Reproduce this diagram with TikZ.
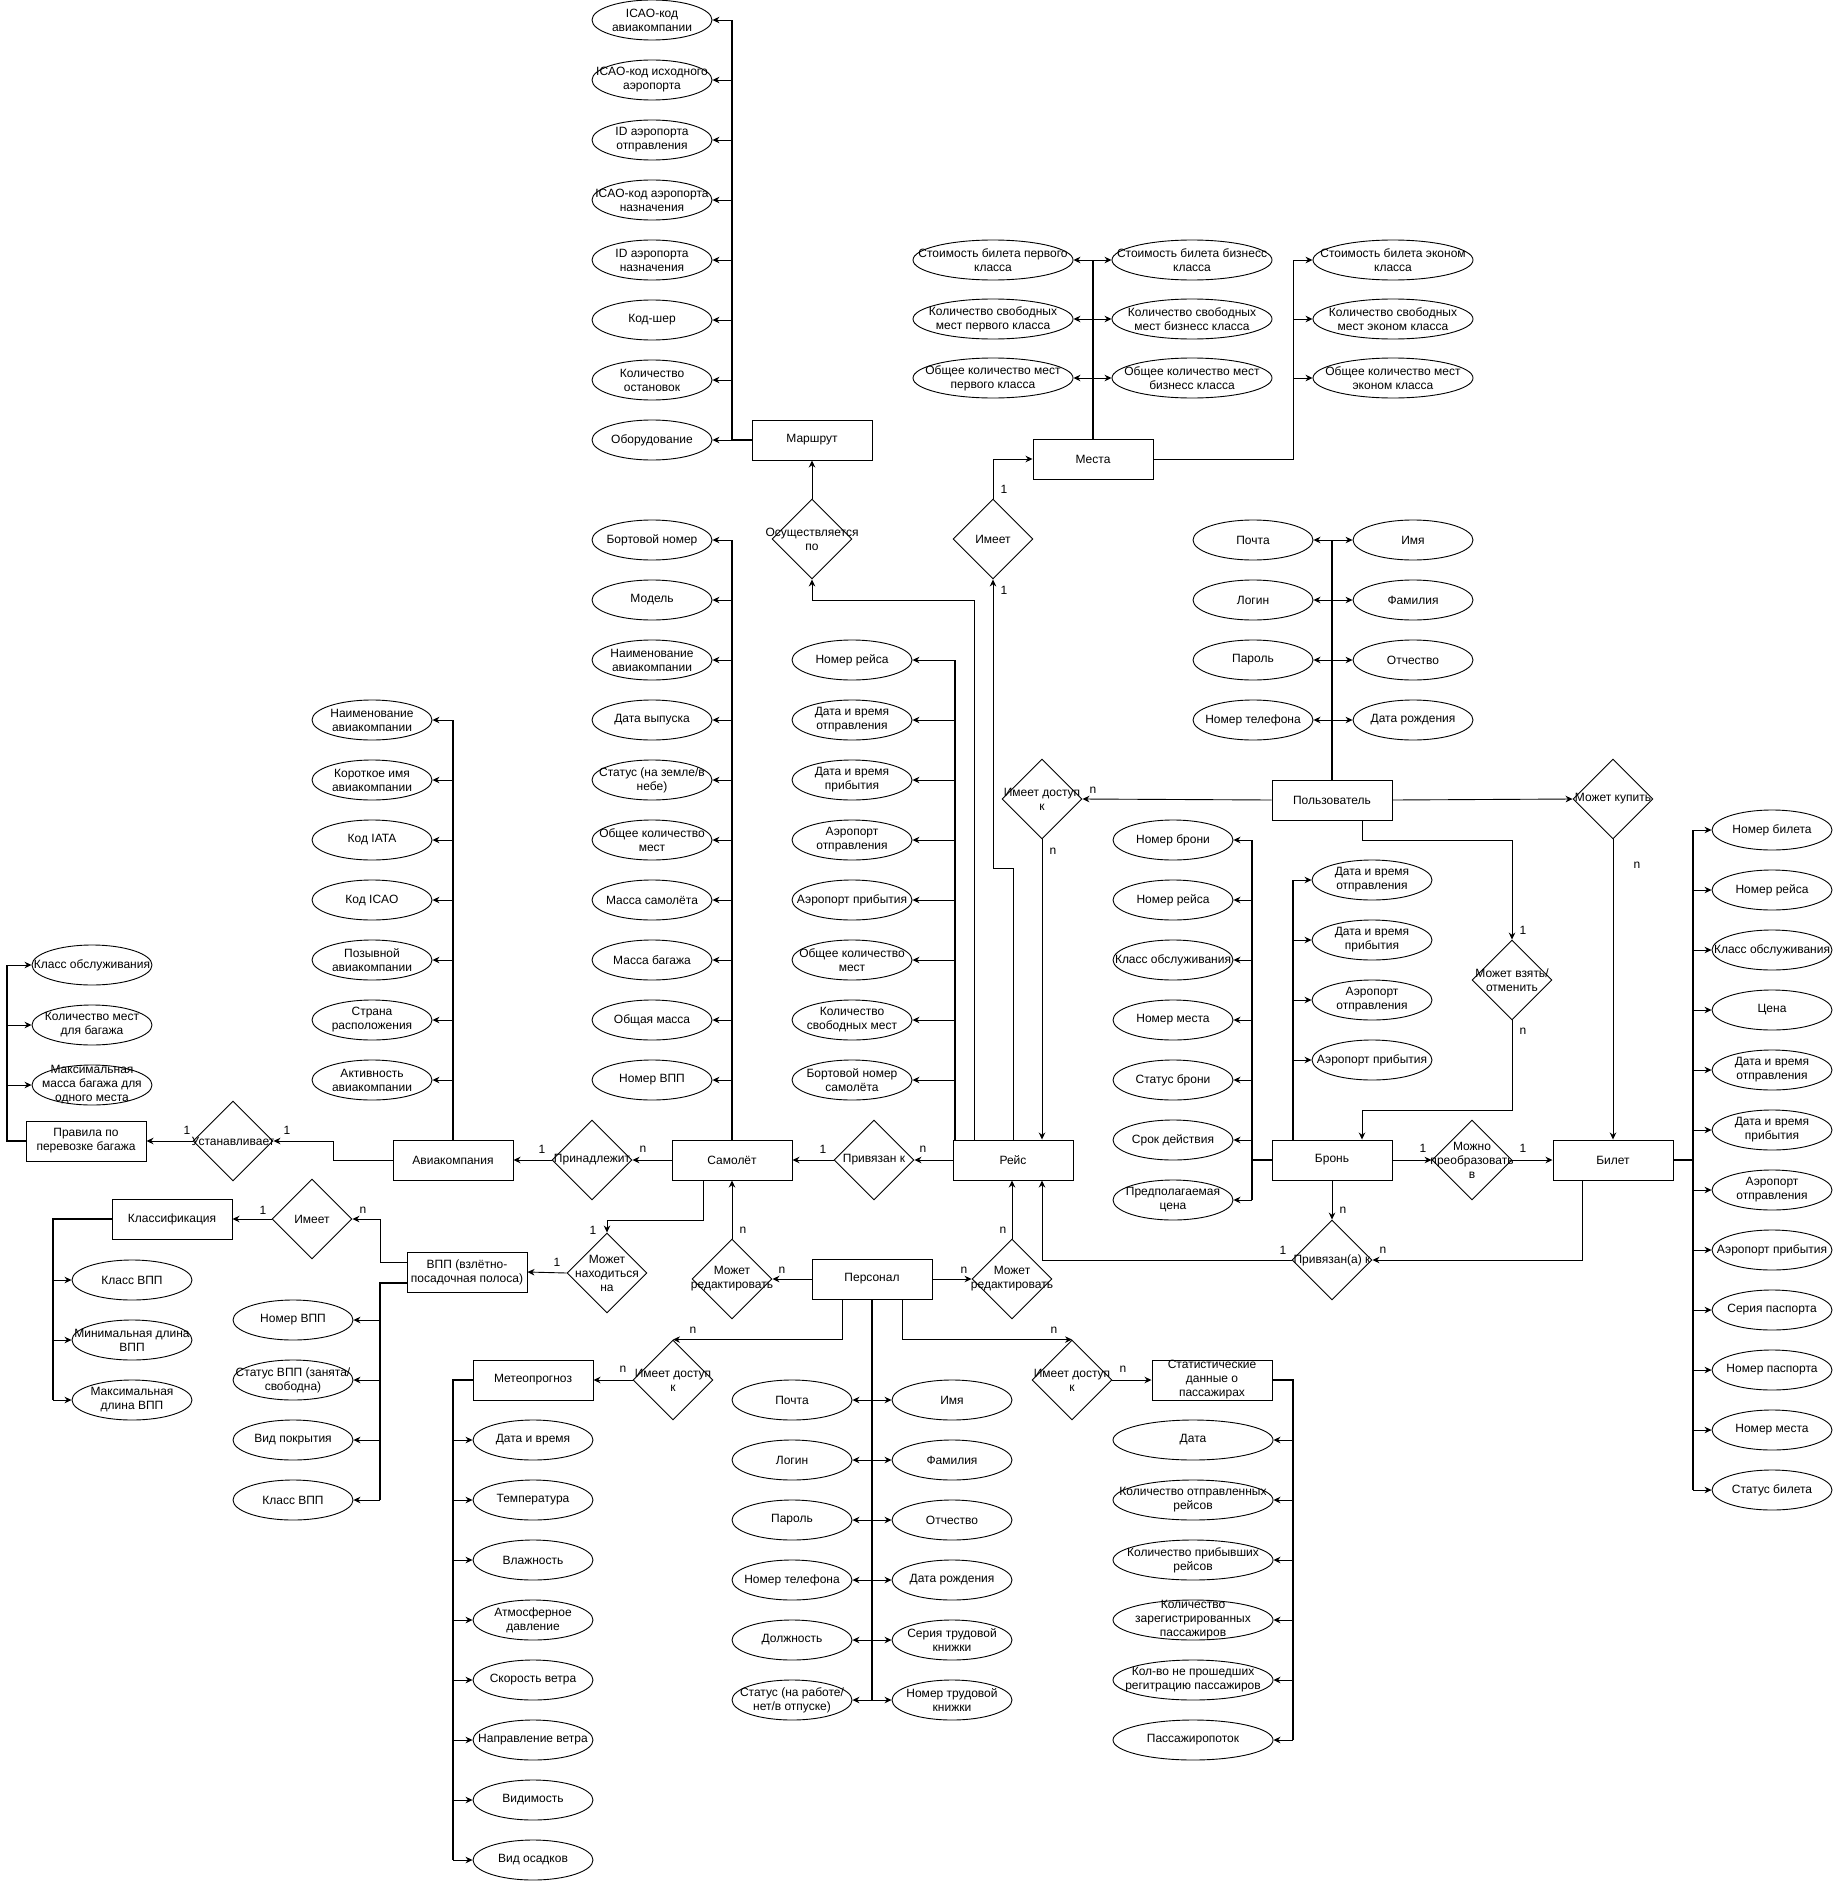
\documentclass[tikz,border=0pt]{standalone}
\usepackage{fontspec}
\setmainfont{Liberation Sans}
\usetikzlibrary{shapes.geometric,arrows.meta}
\newcommand\fs{\fontsize{12}{14}\selectfont}
\tikzset{
  ent/.style={draw, rectangle, minimum width=120pt, minimum height=40pt, inner sep=0pt, line width=1pt},
  attr/.style={draw, ellipse, minimum width=120pt, minimum height=40pt, inner sep=0pt, line width=0.9pt},
  rel/.style={draw, diamond, minimum width=80pt, minimum height=80pt, inner sep=0pt, line width=0.9pt},
  txt/.style={align=center, inner sep=0pt, font=\fs},
  card/.style={inner sep=0pt, font=\fs},
  ln/.style={line width=0.9pt},
  bus/.style={line width=1.8pt},
  tip/.style={-{Stealth[length=7pt,width=6.5pt]}},
  tips/.style={{Stealth[length=7pt,width=6.5pt]}-{Stealth[length=7pt,width=6.5pt]}},
}
% entity, attribute, wide attribute, relationship, cardinality
\newcommand\Ent[4]{\node[ent, label={[txt]center:{#4}}] (#1) at (#2,#3) {};}
\newcommand\Att[4]{\node[attr, label={[txt]center:{#4}}] (#1) at (#2,#3) {};}
\newcommand\Attw[4]{\node[attr, minimum width=160pt, label={[txt]center:{#4}}] (#1) at (#2,#3) {};}
\newcommand\Rel[4]{\node[rel, label={[txt]center:{#4}}] (#1) at (#2,#3) {};}
\newcommand\Card[4]{\node[card] (#1) at (#2,#3) {#4};}
\begin{document}
\begin{tikzpicture}[x=1pt,y=-1pt]
\fill[white] (0,0) rectangle (1834,1881);
\useasboundingbox (0,0) rectangle (1834,1881);

% ---------- entities ----------
\Ent{marsh}{812}{440}{Маршрут}
\Ent{mesta}{1093}{459}{Места}
\Ent{reis}{1013}{1160}{Рейс}
\Ent{samolet}{732}{1160}{Самолёт}
\Ent{aviak}{453}{1160}{Авиакомпания}
\Ent{pravila}{86}{1141}{Правила по\\перевозке багажа}
\Ent{polz}{1332}{800}{Пользователь}
\Ent{bron}{1332}{1160}{Бронь}
\Ent{bilet}{1613}{1160}{Билет}
\Ent{personal}{872}{1279}{Персонал}
\Ent{vpp}{467}{1272}{ВПП (взлётно-\\посадочная полоса)}
\Ent{klass}{172}{1219}{Классификация}
\Ent{meteo}{533}{1380}{Метеопрогноз}
\Ent{stat}{1212}{1380}{Статистические\\данные о\\пассажирах}

% ---------- relationships ----------
\Rel{osush}{812}{539}{Осуществляется\\по}
\Rel{imeetM}{993}{539}{Имеет}
\Rel{dostP}{1042}{799}{Имеет доступ\\к}
\Rel{kupit}{1613}{799}{Может купить}
\Rel{vzyat}{1512}{980}{Может взять/\\отменить}
\Rel{preobr}{1472}{1160}{Можно\\преобразовать\\в}
\Rel{privA}{1332}{1260}{Привязан(а) к}
\Rel{privS}{874}{1160}{Привязан к}
\Rel{prin}{592}{1160}{Принадлежит}
\Rel{ustan}{233}{1141}{Устанавливает}
\Rel{redL}{732}{1279}{Может\\редактировать}
\Rel{redR}{1012}{1279}{Может\\редактировать}
\Rel{dostL}{673}{1380}{Имеет доступ\\к}
\Rel{dostR}{1072}{1380}{Имеет доступ\\к}
\Rel{nahod}{607}{1273}{Может\\находиться\\на}
\Rel{imeetK}{312}{1219}{Имеет}

% ---------- attributes: Маршрут ----------
\Att{m1}{652}{20}{ICAO-код\\авиакомпании}
\Att{m2}{652}{80}{ICAO-код исходного\\аэропорта}
\Att{m3}{652}{140}{ID аэропорта\\отправления}
\Att{m4}{652}{200}{ICAO-код аэропорта\\назначения}
\Att{m5}{652}{260}{ID аэропорта\\назначения}
\Att{m6}{652}{320}{Код-шер}
\Att{m7}{652}{380}{Количество\\остановок}
\Att{m8}{652}{440}{Оборудование}

% ---------- attributes: Места ----------
\Attw{p1}{993}{260}{Стоимость билета первого\\класса}
\Attw{p2}{993}{319}{Количество свободных\\мест первого класса}
\Attw{p3}{993}{378}{Общее количество мест\\первого класса}
\Attw{b1}{1192}{260}{Стоимость билета бизнесс\\класса}
\Attw{b2}{1192}{319}{Количество свободных\\мест бизнесс класса}
\Attw{b3}{1192}{378}{Общее количество мест\\бизнесс класса}
\Attw{e1}{1393}{260}{Стоимость билета эконом\\класса}
\Attw{e2}{1393}{319}{Количество свободных\\мест эконом класса}
\Attw{e3}{1393}{378}{Общее количество мест\\эконом класса}

% ---------- attributes: Самолёт ----------
\Att{s1}{652}{540}{Бортовой номер}
\Att{s2}{652}{600}{Модель}
\Att{s3}{652}{660}{Наименование\\авиакомпании}
\Att{s4}{652}{720}{Дата выпуска}
\Att{s5}{652}{780}{Статус (на земле/в\\небе)}
\Att{s6}{652}{840}{Общее количество\\мест}
\Att{s7}{652}{900}{Масса самолёта}
\Att{s8}{652}{960}{Масса багажа}
\Att{s9}{652}{1020}{Общая масса}
\Att{s10}{652}{1080}{Номер ВПП}

% ---------- attributes: Рейс ----------
\Att{r1}{852}{660}{Номер рейса}
\Att{r2}{852}{720}{Дата и время\\отправления}
\Att{r3}{852}{780}{Дата и время\\прибытия}
\Att{r4}{852}{840}{Аэропорт\\отправления}
\Att{r5}{852}{900}{Аэропорт прибытия}
\Att{r6}{852}{960}{Общее количество\\мест}
\Att{r7}{852}{1020}{Количество\\свободных мест}
\Att{r8}{852}{1080}{Бортовой номер\\самолёта}

% ---------- attributes: Авиакомпания ----------
\Att{a1}{372}{720}{Наименование\\авиакомпании}
\Att{a2}{372}{780}{Короткое имя\\авиакомпании}
\Att{a3}{372}{840}{Код IATA}
\Att{a4}{372}{900}{Код ICAO}
\Att{a5}{372}{960}{Позывной\\авиакомпании}
\Att{a6}{372}{1020}{Страна\\расположения}
\Att{a7}{372}{1080}{Активность\\авиакомпании}

% ---------- attributes: Правила по перевозке багажа ----------
\Att{g1}{92}{965}{Класс обслуживания}
\Att{g2}{92}{1025}{Количество мест\\для багажа}
\Att{g3}{92}{1085}{Максимальная\\масса багажа для\\одного места}

% ---------- attributes: Пользователь ----------
\Att{u1}{1253}{540}{Почта}
\Att{u2}{1253}{600}{Логин}
\Att{u3}{1253}{660}{Пароль}
\Att{u4}{1253}{720}{Номер телефона}
\Att{v1}{1413}{540}{Имя}
\Att{v2}{1413}{600}{Фамилия}
\Att{v3}{1413}{660}{Отчество}
\Att{v4}{1413}{720}{Дата рождения}

% ---------- attributes: Бронь ----------
\Att{k1}{1173}{840}{Номер брони}
\Att{k2}{1173}{900}{Номер рейса}
\Att{k3}{1173}{960}{Класс обслуживания}
\Att{k4}{1173}{1020}{Номер места}
\Att{k5}{1173}{1080}{Статус брони}
\Att{k6}{1173}{1140}{Срок действия}
\Att{k7}{1173}{1200}{Предполагаемая\\цена}
\Att{h1}{1372}{880}{Дата и время\\отправления}
\Att{h2}{1372}{940}{Дата и время\\прибытия}
\Att{h3}{1372}{1000}{Аэропорт\\отправления}
\Att{h4}{1372}{1060}{Аэропорт прибытия}

% ---------- attributes: Билет ----------
\Att{t1}{1772}{830}{Номер билета}
\Att{t2}{1772}{890}{Номер рейса}
\Att{t3}{1772}{950}{Класс обслуживания}
\Att{t4}{1772}{1010}{Цена}
\Att{t5}{1772}{1070}{Дата и время\\отправления}
\Att{t6}{1772}{1130}{Дата и время\\прибытия}
\Att{t7}{1772}{1190}{Аэропорт\\отправления}
\Att{t8}{1772}{1250}{Аэропорт прибытия}
\Att{t9}{1772}{1310}{Серия паспорта}
\Att{t10}{1772}{1370}{Номер паспорта}
\Att{t11}{1772}{1430}{Номер места}
\Att{t12}{1772}{1490}{Статус билета}

% ---------- attributes: Персонал ----------
\Att{q1}{792}{1400}{Почта}
\Att{q2}{792}{1460}{Логин}
\Att{q3}{792}{1520}{Пароль}
\Att{q4}{792}{1580}{Номер телефона}
\Att{q5}{792}{1640}{Должность}
\Att{q6}{792}{1700}{Статус (на работе/\\нет/в отпуске)}
\Att{w1}{952}{1400}{Имя}
\Att{w2}{952}{1460}{Фамилия}
\Att{w3}{952}{1520}{Отчество}
\Att{w4}{952}{1580}{Дата рождения}
\Att{w5}{952}{1640}{Серия трудовой\\книжки}
\Att{w6}{952}{1700}{Номер трудовой\\книжки}

% ---------- attributes: Метеопрогноз ----------
\Att{f1}{533}{1440}{Дата и время}
\Att{f2}{533}{1500}{Температура}
\Att{f3}{533}{1560}{Влажность}
\Att{f4}{533}{1620}{Атмосферное\\давление}
\Att{f5}{533}{1680}{Скорость ветра}
\Att{f6}{533}{1740}{Направление ветра}
\Att{f7}{533}{1800}{Видимость}
\Att{f8}{533}{1860}{Вид осадков}

% ---------- attributes: Статистические данные ----------
\Attw{z1}{1193}{1440}{Дата}
\Attw{z2}{1193}{1500}{Количество отправленных\\рейсов}
\Attw{z3}{1193}{1560}{Количество прибывших\\рейсов}
\Attw{z4}{1193}{1620}{Количество\\зарегистрированных\\пассажиров}
\Attw{z5}{1193}{1680}{Кол-во не прошедших\\регитрацию пассажиров}
\Attw{z6}{1193}{1740}{Пассажиропоток}

% ---------- attributes: ВПП ----------
\Att{x1}{293}{1320}{Номер ВПП}
\Att{x2}{293}{1380}{Статус ВПП (занята/\\свободна)}
\Att{x3}{293}{1440}{Вид покрытия}
\Att{x4}{293}{1500}{Класс ВПП}

% ---------- attributes: Классификация ----------
\Att{c1}{132}{1280}{Класс ВПП}
\Att{c2}{132}{1340}{Минимальная длина\\ВПП}
\Att{c3}{132}{1400}{Максимальная\\длина ВПП}

% ---------- bus columns ----------
\coordinate (mB) at (732,0);
\coordinate (mesB) at (1093,0);
\coordinate (eB) at (1293,0);
\coordinate (sB) at (732,0);
\coordinate (rB) at (955,0);
\coordinate (aB) at (453,0);
\coordinate (gB) at (7,0);
\coordinate (uB) at (1332,0);
\coordinate (kB) at (1252,0);
\coordinate (hB) at (1293,0);
\coordinate (tB) at (1693,0);
\coordinate (qB) at (872,0);
\coordinate (fB) at (453,0);
\coordinate (zB) at (1293,0);
\coordinate (xB) at (380,0);
\coordinate (cB) at (53,0);
\coordinate (rO) at (974,0);
\coordinate (pv) at (1362,0);
\coordinate (bq) at (1582,0);
\coordinate (rz) at (1042,0);
\coordinate (sv) at (703,0);
\coordinate (pl) at (842,0);
\coordinate (pr) at (902,0);
\coordinate (vu) at (0,1262);
\coordinate (vl) at (0,1283);

% Маршрут
\draw[bus] (marsh.west) -- (marsh.west -| mB) -- (m1.east -| mB);
\foreach \i in {1,...,8} \draw[ln,tip] (m\i.east -| mB) -- (m\i.east);
\draw[ln,tip] (osush.north) -- (marsh.south);
\draw[ln,tip] (reis.north -| rO) |- (812,600) -- (osush.south);

% Места
\draw[ln,tip] (reis.north) |- (993,868) -- (imeetM.south);
\draw[ln,tip] (imeetM.north) |- (mesta.west);
\draw[bus] (mesta.north) -- (p1.east -| mesB);
\foreach \i in {1,2,3} \draw[ln,tips] (p\i.east) -- (b\i.west);
\draw[ln] (mesta.east) -| (e1.west -| eB);
\foreach \i in {1,2,3} \draw[ln,tip] (e\i.west -| eB) -- (e\i.west);

% Пользователь
\draw[bus] (polz.north) -- (u1.east -| uB);
\foreach \i in {1,...,4} \draw[ln,tips] (u\i.east) -- (v\i.west);
\draw[ln,tip] (polz.west) -- (dostP.east);
\draw[ln,tip] (dostP.south) -- (dostP.south |- reis.north);
\draw[ln,tip] (polz.east) -- (kupit.west);
\draw[ln,tip] (kupit.south) -- (bilet.north);
\draw[ln,tip] (polz.south -| pv) |- (1512,840) -- (vzyat.north);
\draw[ln,tip] (vzyat.south) |- (1362,1110) -- (bron.north -| pv);

% Бронь и Билет
\draw[ln,tip] (bron.east) -- (preobr.west);
\draw[ln,tip] (preobr.east) -- (bilet.west);
\draw[ln,tip] (bron.south) -- (privA.north);
\draw[ln,tip] (bilet.south -| bq) |- (privA.east);
\draw[ln,tip] (privA.west) -| (reis.south -| rz);
\draw[bus] (bron.west) -- (bron.west -| kB);
\draw[bus] (k1.east -| kB) -- (k7.east -| kB);
\foreach \i in {1,...,7} \draw[ln,tip] (k\i.east -| kB) -- (k\i.east);
\draw[bus] (bron.north -| hB) -- (h1.west -| hB);
\foreach \i in {1,...,4} \draw[ln,tip] (h\i.west -| hB) -- (h\i.west);
\draw[bus] (bilet.east) -- (bilet.east -| tB);
\draw[bus] (t1.west -| tB) -- (t12.west -| tB);
\foreach \i in {1,...,12} \draw[ln,tip] (t\i.west -| tB) -- (t\i.west);

% Рейс и Самолёт
\draw[bus] (reis.north -| rB) -- (r1.east -| rB);
\foreach \i in {1,...,8} \draw[ln,tip] (r\i.east -| rB) -- (r\i.east);
\draw[ln,tip] (reis.west) -- (privS.east);
\draw[ln,tip] (privS.west) -- (samolet.east);
\draw[bus] (samolet.north) -- (s1.east -| sB);
\foreach \i in {1,...,10} \draw[ln,tip] (s\i.east -| sB) -- (s\i.east);
\draw[ln,tip] (samolet.west) -- (prin.east);
\draw[ln,tip] (prin.west) -- (aviak.east);

% Авиакомпания и правила
\draw[bus] (aviak.north) -- (a1.east -| aB);
\foreach \i in {1,...,7} \draw[ln,tip] (a\i.east -| aB) -- (a\i.east);
\draw[ln,tip] (aviak.west) -| (333,1141) -- (ustan.east);
\draw[ln,tip] (ustan.west) -- (pravila.east);
\draw[bus] (pravila.west) -- (pravila.west -| gB) -- (g1.west -| gB);
\foreach \i in {1,2,3} \draw[ln,tip] (g\i.west -| gB) -- (g\i.west);

% ВПП и классификация
\draw[ln,tip] (samolet.south -| sv) |- (607,1220) -- (nahod.north);
\draw[ln,tip] (nahod.west) -- (vpp.east);
\draw[ln,tip] (vpp.west |- vu) -| (380,1219) -- (imeetK.east);
\draw[ln,tip] (imeetK.west) -- (klass.east);
\draw[bus] (vpp.west |- vl) -- (vl -| xB) -- (x4.east -| xB);
\foreach \i in {1,...,4} \draw[ln,tip] (x\i.east -| xB) -- (x\i.east);
\draw[bus] (klass.west) -- (klass.west -| cB) -- (c3.west -| cB);
\foreach \i in {1,2,3} \draw[ln,tip] (c\i.west -| cB) -- (c\i.west);

% Персонал
\draw[ln,tip] (personal.west) -- (redL.east);
\draw[ln,tip] (redL.north) -- (samolet.south);
\draw[ln,tip] (personal.east) -- (redR.west);
\draw[ln,tip] (redR.north) -- (redR.north |- reis.south);
\draw[ln,tip] (personal.south -| pl) |- (dostL.north);
\draw[ln,tip] (personal.south -| pr) |- (dostR.north);
\draw[ln,tip] (dostL.west) -- (meteo.east);
\draw[ln,tip] (dostR.east) -- (stat.west);
\draw[bus] (personal.south) -- (q6.east -| qB);
\foreach \i in {1,...,6} \draw[ln,tips] (q\i.east) -- (w\i.west);
\draw[bus] (meteo.west) -- (meteo.west -| fB) -- (f8.west -| fB);
\foreach \i in {1,...,8} \draw[ln,tip] (f\i.west -| fB) -- (f\i.west);
\draw[bus] (stat.east) -- (stat.east -| zB) -- (z6.east -| zB);
\foreach \i in {1,...,6} \draw[ln,tip] (z\i.east -| zB) -- (z\i.east);

% ---------- cardinalities ----------
\Card{n01}{1004}{489}{1}
\Card{n02}{1004}{590}{1}
\Card{n03}{1093}{790}{n}
\Card{n04}{1053}{851}{n}
\Card{n05}{1637}{865}{n}
\Card{n06}{1523}{930}{1}
\Card{n07}{1523}{1031}{n}
\Card{n08}{1423}{1148}{1}
\Card{n09}{1523}{1148}{1}
\Card{n10}{1343}{1210}{n}
\Card{n11}{1383}{1250}{n}
\Card{n12}{1283}{1250}{1}
\Card{n13}{923}{1149}{n}
\Card{n14}{823}{1149}{1}
\Card{n15}{643}{1149}{n}
\Card{n16}{542}{1149}{1}
\Card{n17}{187}{1130}{1}
\Card{n18}{287}{1130}{1}
\Card{n19}{782}{1270}{n}
\Card{n20}{743}{1230}{n}
\Card{n21}{964}{1270}{n}
\Card{n22}{1003}{1230}{n}
\Card{n23}{693}{1330}{n}
\Card{n24}{623}{1369}{n}
\Card{n25}{1054}{1330}{n}
\Card{n26}{1123}{1369}{n}
\Card{n27}{593}{1230}{1}
\Card{n28}{557}{1262}{1}
\Card{n29}{363}{1210}{n}
\Card{n30}{263}{1210}{1}
\end{tikzpicture}
\end{document}
